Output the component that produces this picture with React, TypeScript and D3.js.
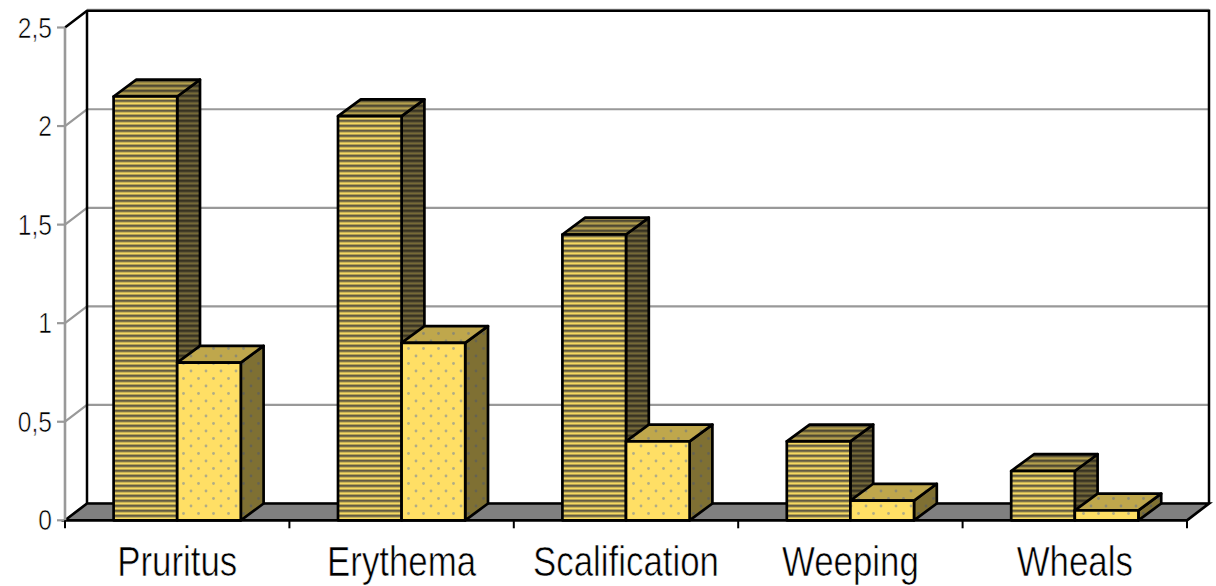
import React from "react";
import * as d3 from "d3";

const categories = ["Pruritus", "Erythema", "Scalification", "Weeping", "Wheals"];
const seriesA = [2.15, 2.05, 1.45, 0.4, 0.25];
const seriesB = [0.8, 0.9, 0.4, 0.1, 0.05];
const yTicks = [0, 0.5, 1, 1.5, 2, 2.5];
const yTickLabels = ["0", "0,5", "1", "1,5", "2", "2,5"];

const W = 1216, H = 586;
const DX = 22, DY = -16.8;
const BAR_DX = 22.8;
const x = d3.scaleBand<string>().domain(categories).range([65, 1187]).padding(0);
const y = d3.scaleLinear().domain([0, 2.5]).range([520.3, 27.5]);
const BAR = 63.6;
const font = "'Liberation Sans', sans-serif";
const pts = (p: number[][]) => p.map((q) => q.join(",")).join(" ");

function Stripes({ id, bg, line, mid }: { id: string; bg: string; line: string; mid: string }) {
  return (
    <pattern id={id} width={8} height={5} patternUnits="userSpaceOnUse">
      <rect width={8} height={5} fill={mid} />
      <rect y={0} width={8} height={1.7} fill={line} />
      <rect y={2.7} width={8} height={1.3} fill={bg} />
    </pattern>
  );
}
function Dots({ id, bg, dot }: { id: string; bg: string; dot: string }) {
  return (
    <pattern id={id} width={15} height={15} patternUnits="userSpaceOnUse">
      <rect width={15} height={15} fill={bg} />
      <circle cx={3.5} cy={3.5} r={1.4} fill={dot} />
      <circle cx={11} cy={11} r={1.4} fill={dot} />
    </pattern>
  );
}

function Label({ x: tx, y: ty, size, sx, anchor, children }: { x: number; y: number; size: number; sx: number; anchor: string; children: React.ReactNode }) {
  return (
    <text
      transform={`translate(${tx},${ty}) scale(${sx},1)`}
      textAnchor={anchor}
      fontFamily={font}
      fontSize={size}
      fill="#000"
      stroke="#fff"
      strokeWidth={0.6}
    >
      {children}
    </text>
  );
}

function Bar({ x0, v, fills }: { x0: number; v: number; fills: string[] }) {
  const x1 = x0 + BAR, yt = y(v), yb = y(0);
  const s = { stroke: "#000", strokeWidth: 2.7, strokeLinejoin: "round" as const };
  return (
    <g>
      <polygon points={pts([[x1, yb], [x1 + BAR_DX, yb + DY], [x1 + BAR_DX, yt + DY], [x1, yt]])} fill={`url(#${fills[2]})`} {...s} />
      <polygon points={pts([[x0, yt], [x1, yt], [x1 + BAR_DX, yt + DY], [x0 + BAR_DX, yt + DY]])} fill={`url(#${fills[1]})`} {...s} />
      <rect x={x0} y={yt} width={BAR} height={yb - yt} fill={`url(#${fills[0]})`} {...s} />
    </g>
  );
}

export default function App() {
  const xL = 65, xR = 1187;
  const y0 = y(0), yTop = y(2.5);
  return (
    <svg width={W} height={H} style={{ position: "absolute", left: 0, top: 0, background: "#fff" }}>
      <defs>
        <Stripes id="aF" bg="#F5D862" mid="#B5A352" line="#625B44" />
        <Stripes id="aT" bg="#B5A04C" mid="#8A7C42" line="#4F4934" />
        <Stripes id="aS" bg="#766A36" mid="#595032" line="#383322" />
        <Dots id="bF" bg="#FFDF65" dot="#B2AD85" />
        <Dots id="bT" bg="#BFA74C" dot="#8F8B6E" />
        <Dots id="bS" bg="#7F7033" dot="#666350" />
      </defs>
      {yTicks.slice(0, -1).map((t) => (
        <polyline key={t} points={pts([[xL, y(t)], [xL + DX, y(t) + DY], [xR + DX, y(t) + DY]])} fill="none" stroke="#999" strokeWidth={2.2} />
      ))}
      <line x1={xL + DX} x2={xR + DX} y1={yTop + DY - 1.5} y2={yTop + DY - 1.5} stroke="#aaa" strokeWidth={1} />
      <polygon points={pts([[xL, y0], [xR, y0], [xR + DX, y0 + DY], [xL + DX, y0 + DY]])} fill="#808080" stroke="#000" strokeWidth={2.7} />
      <polyline points={pts([[xL, yTop], [xL + DX, yTop + DY], [xR + DX, yTop + DY], [xR + DX, y0 + DY]])} fill="none" stroke="#000" strokeWidth={2.5} />
      <line x1={xL + DX} x2={xL + DX} y1={yTop + DY} y2={y0 + DY} stroke="#000" strokeWidth={2.5} />
      <line x1={xL} x2={xL} y1={yTop} y2={y0} stroke="#999" strokeWidth={2.6} />
      {yTicks.map((t, i) => (
        <g key={t}>
          <line x1={xL - 8} x2={xL} y1={y(t)} y2={y(t)} stroke="#999" strokeWidth={2.2} />
          <Label x={xL - 13} y={y(t) + 10} size={30} sx={0.82} anchor="end">{yTickLabels[i]}</Label>
        </g>
      ))}
      {[...categories.map((c) => x(c)!), xR].map((p) => (
        <line key={p} x1={p} x2={p} y1={y0} y2={y0 + 8} stroke="#000" strokeWidth={2} />
      ))}
      {categories.map((c, i) => {
        const mid = x(c)! + x.bandwidth() / 2;
        return (
          <g key={c}>
            <Bar x0={mid - BAR} v={seriesA[i]} fills={["aF", "aT", "aS"]} />
            <Bar x0={mid} v={seriesB[i]} fills={["bF", "bT", "bS"]} />
            <Label x={mid} y={576} size={42} sx={0.83} anchor="middle">{c}</Label>
          </g>
        );
      })}
    </svg>
  );
}
